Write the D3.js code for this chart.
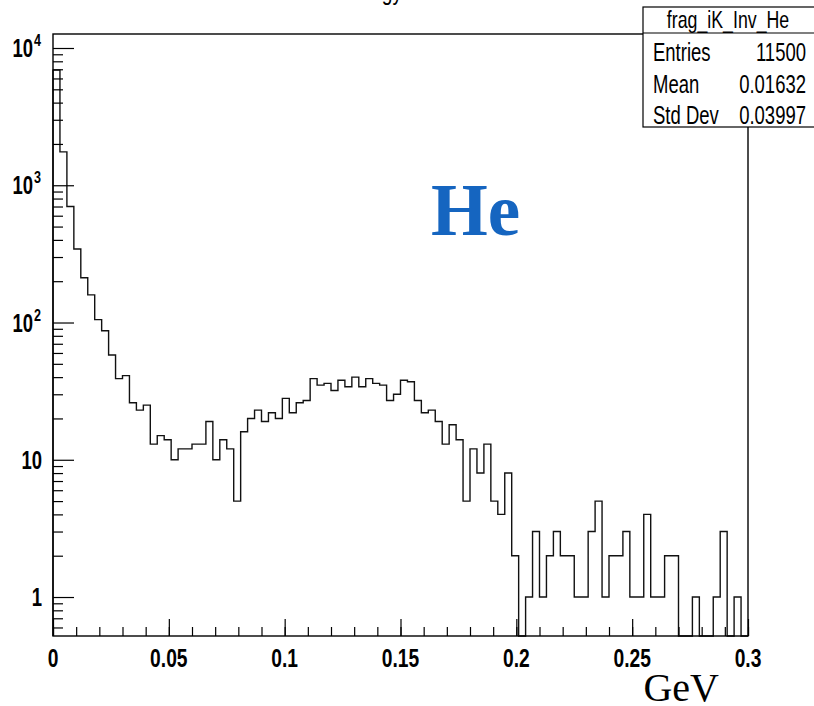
<!DOCTYPE html>
<html>
<head>
<meta charset="utf-8">
<script src="https://cdn.jsdelivr.net/npm/d3@7"></script>
<style>
  body { margin: 0; background: #fff; }
  svg { display: block; }
</style>
</head>
<body>
<div id="chart"></div>
<script>
// histogram frag_iK_Inv_He : 100 bins between 0 and 0.3 GeV
const xLow = 0, xHigh = 0.3;
const counts = [
  6900, 1750, 700, 343, 212, 159, 105, 87, 58, 39,
  41, 26, 23, 25, 13, 15, 14, 10, 12, 12,
  13, 13, 19, 10, 14, 12, 5, 16, 20, 23,
  19, 22, 20, 28, 22, 26, 27, 39, 35, 36,
  32, 38, 34, 40, 34, 39, 36, 35, 27, 30,
  38, 37, 27, 22, 23, 19, 13, 18, 14, 5,
  12, 8, 13, 5, 4, 8, 2, 0, 1, 3,
  1, 2, 3, 2, 2, 1, 1, 3, 5, 1,
  2, 2, 3, 1, 1, 4, 1, 1, 2, 2,
  0, 0, 1, 0, 0, 1, 3, 0, 1, 0
];
const xTicks = [0, 0.05, 0.1, 0.15, 0.2, 0.25, 0.3];
const xTickLabels = ["0", "0.05", "0.1", "0.15", "0.2", "0.25", "0.3"];
const yDecades = [1, 10, 100, 1000, 10000];
const statNames = ["Entries", "Mean", "Std Dev"];
const statValues = ["11500", "0.01632", "0.03997"];
const histName = "frag_iK_Inv_He";

const W = 814, H = 706;
const frame = { left: 53, right: 748, top: 34, bottom: 636 };
const sans = "'Liberation Sans', Arial, sans-serif";
const SQ = 0.74; // horizontal squeeze to mimic the condensed ROOT font

const svg = d3.select("#chart").append("svg")
  .attr("width", W).attr("height", H);

const x = d3.scaleLinear().domain([xLow, xHigh]).range([frame.left, frame.right]);
const y = d3.scaleLog().domain([Math.pow(10, -0.284), Math.pow(10, 4.102)])
  .range([frame.bottom, frame.top]);

// condensed text helper
function ctext(g, px, py, str, size, anchor, weight) {
  return g.append("text")
    .attr("transform", `translate(${px},${py}) scale(${SQ},1)`)
    .attr("text-anchor", anchor || "start")
    .style("font", `${weight || "normal"} ${size}px ${sans}`)
    .text(str);
}

// title, cut by the top of the canvas
ctext(svg, 402, 0, "Energy", 26, "end");

// histogram outline
const binW = (xHigh - xLow) / counts.length;
const pts = [[x(xLow), frame.bottom]];
counts.forEach((c, i) => {
  const yy = c > 0 ? y(c) : frame.bottom;
  pts.push([x(xLow + i * binW), yy], [x(xLow + (i + 1) * binW), yy]);
});
pts.push([x(xHigh), frame.bottom]);

svg.append("path")
  .attr("d", d3.line()(pts))
  .attr("fill", "none")
  .attr("stroke", "#111")
  .attr("stroke-width", 1.4);

// frame
svg.append("rect")
  .attr("x", frame.left).attr("y", frame.top)
  .attr("width", frame.right - frame.left).attr("height", frame.bottom - frame.top)
  .attr("fill", "none").attr("stroke", "#000").attr("stroke-width", 1.4);

// x axis: major ticks + minor every 0.01
const xMinor = d3.range(0, 31).map(i => i / 100);
svg.append("g")
  .attr("transform", `translate(0,${frame.bottom})`)
  .call(d3.axisBottom(x).tickValues(xMinor).tickSize(-9).tickFormat(""))
  .call(g => g.select(".domain").remove());

svg.append("g")
  .attr("transform", `translate(0,${frame.bottom})`)
  .call(d3.axisBottom(x).tickValues(xTicks).tickSize(-17).tickFormat(""))
  .call(g => g.select(".domain").remove());

xTicks.forEach((v, i) => ctext(svg, x(v), frame.bottom + 31, xTickLabels[i], 26, "middle", "bold"));

// y axis: decades + 2..9 minors
const yMinor = [];
[0.1, 1, 10, 100, 1000, 10000].forEach(d => {
  for (let k = 2; k <= 9; k++) yMinor.push(d * k);
});
const yDom = y.domain();
svg.append("g")
  .attr("transform", `translate(${frame.left},0)`)
  .call(d3.axisLeft(y).tickValues(yMinor.filter(v => v >= yDom[0] && v <= yDom[1]))
    .tickSize(-10).tickFormat(""))
  .call(g => g.select(".domain").remove());
svg.append("g")
  .attr("transform", `translate(${frame.left},0)`)
  .call(d3.axisLeft(y).tickValues(yDecades).tickSize(-21).tickFormat(""))
  .call(g => g.select(".domain").remove());
svg.selectAll(".tick line").attr("stroke", "#000").attr("stroke-width", 1.2);

// y labels with exponents
yDecades.forEach(v => {
  const e = Math.round(Math.log10(v));
  if (e <= 1) {
    ctext(svg, 42, y(v) + 9, String(v), 25, "end", "bold");
  } else {
    ctext(svg, 33, y(v) + 9, "10", 25, "end", "bold");
    ctext(svg, 34, y(v) - 2, String(e), 17, "start", "bold");
  }
});

// axis title
svg.append("text")
  .attr("x", 719).attr("y", 701)
  .attr("text-anchor", "end")
  .style("font", "40px 'Liberation Serif', 'Times New Roman', serif")
  .text("GeV");

// He label
svg.append("text")
  .attr("x", 431).attr("y", 235)
  .style("font", "bold 73px 'Liberation Serif', 'Times New Roman', serif")
  .attr("fill", "#1565c0")
  .text("He");

// stats box
const box = { x0: 643, x1: 818, y0: 7, y1: 127, titleH: 26 };
const sb = svg.append("g");
sb.append("rect")
  .attr("x", box.x0).attr("y", box.y0)
  .attr("width", box.x1 - box.x0).attr("height", box.y1 - box.y0)
  .attr("fill", "#fff").attr("stroke", "#000").attr("stroke-width", 1.2);
sb.append("line")
  .attr("x1", box.x0).attr("x2", box.x1)
  .attr("y1", box.y0 + box.titleH).attr("y2", box.y0 + box.titleH)
  .attr("stroke", "#000").attr("stroke-width", 1.2);
ctext(sb, 728, box.y0 + 21, histName, 24, "middle");
const rowH = (box.y1 - box.y0 - box.titleH) / statNames.length;
statNames.forEach((n, i) => {
  const by = box.y0 + box.titleH + rowH * (i + 1) - 3;
  ctext(sb, box.x0 + 10, by, n, 25, "start");
  ctext(sb, 806, by, statValues[i], 25, "end");
});
</script>
</body>
</html>
